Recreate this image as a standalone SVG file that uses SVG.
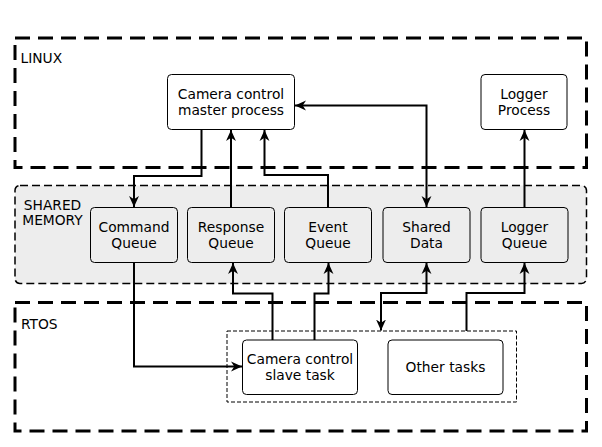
<svg xmlns="http://www.w3.org/2000/svg" width="602" height="447" viewBox="0 0 602 447">
<style>
text{font-family:"DejaVu Sans","Liberation Sans",sans-serif;font-size:13.8px;fill:#000}
.c{text-anchor:middle}
.zone{fill:none;stroke:#000;stroke-width:3;stroke-dasharray:15,8}
.shm{fill:#ededed;stroke:#000;stroke-width:1.5;stroke-dasharray:8,4}
.inner{fill:none;stroke:#000;stroke-width:1;stroke-dasharray:4,2}
.node{fill:#fff;stroke:#000;stroke-width:1}
.shmnode{fill:#ededed;stroke:#000;stroke-width:1}
.edge{fill:none;stroke:#000;stroke-width:2}
</style>
<defs>
<marker id="ah" viewBox="0 0 10 10" refX="10" refY="5" markerWidth="11" markerHeight="11" markerUnits="userSpaceOnUse" orient="auto-start-reverse">
<path d="M0,0.5 L10,5 L0,9.5 L3,5 Z" fill="#000"/>
</marker>
</defs>
<g id="linux">
<rect class="zone" x="15" y="38" width="571.5" height="129.5"/>
<text x="20.5" y="62.5">LINUX</text>
</g>
<g id="shared-memory">
<rect class="shm" x="15" y="185.5" width="571.5" height="98" rx="5"/>
<text class="c" x="52.5" y="210">SHARED</text>
<text class="c" x="52.5" y="225">MEMORY</text>
</g>
<g id="rtos">
<rect class="zone" x="15" y="302.5" width="571.5" height="128.5"/>
<text x="21" y="329.3">RTOS</text>
</g>
<g id="rtos-tasks">
<rect class="inner" x="227" y="331" width="289.5" height="71"/>
</g>
<g id="master">
<rect class="node" x="167.5" y="74.5" width="127" height="55" rx="4"/>
<text class="c" x="231" y="99">Camera control</text>
<text class="c" x="231" y="115">master process</text>
</g>
<g id="logger-process">
<rect class="node" x="481" y="74.5" width="86" height="55" rx="4"/>
<text class="c" x="524" y="99">Logger</text>
<text class="c" x="524" y="115">Process</text>
</g>
<g id="command-queue">
<rect class="shmnode" x="90.5" y="207.5" width="87" height="55" rx="4"/>
<text class="c" x="134" y="231.5">Command</text>
<text class="c" x="134" y="247.5">Queue</text>
</g>
<g id="response-queue">
<rect class="shmnode" x="187.5" y="207.5" width="87" height="55" rx="4"/>
<text class="c" x="231" y="231.5">Response</text>
<text class="c" x="231" y="247.5">Queue</text>
</g>
<g id="event-queue">
<rect class="shmnode" x="284.5" y="207.5" width="87" height="55" rx="4"/>
<text class="c" x="328" y="231.5">Event</text>
<text class="c" x="328" y="247.5">Queue</text>
</g>
<g id="shared-data">
<rect class="shmnode" x="383" y="207.5" width="87" height="55" rx="4"/>
<text class="c" x="426.5" y="231.5">Shared</text>
<text class="c" x="426.5" y="247.5">Data</text>
</g>
<g id="logger-queue">
<rect class="shmnode" x="481" y="207.5" width="87" height="55" rx="4"/>
<text class="c" x="524.5" y="231.5">Logger</text>
<text class="c" x="524.5" y="247.5">Queue</text>
</g>
<g id="slave">
<rect class="node" x="242.5" y="340" width="115" height="54.5" rx="4"/>
<text class="c" x="300" y="364">Camera control</text>
<text class="c" x="300" y="380">slave task</text>
</g>
<g id="other-tasks">
<rect class="node" x="388" y="340" width="115" height="54.5" rx="4"/>
<text class="c" x="445.5" y="372">Other tasks</text>
</g>
<g id="connectors">
<path class="edge" d="M201.5,129.5 V176 H134 V207" marker-end="url(#ah)"/>
<path class="edge" d="M231,207.5 V130" marker-end="url(#ah)"/>
<path class="edge" d="M328,207.5 V175 H264.5 V130" marker-end="url(#ah)"/>
<path class="edge" d="M295,105.5 H426.5 V207" marker-start="url(#ah)" marker-end="url(#ah)"/>
<path class="edge" d="M524.5,207.5 V130" marker-end="url(#ah)"/>
<path class="edge" d="M134,262.5 V366.5 H242" marker-end="url(#ah)"/>
<path class="edge" d="M272.5,340 V293.5 H233 V263" marker-end="url(#ah)"/>
<path class="edge" d="M314.5,340 V293.5 H328.5 V263" marker-end="url(#ah)"/>
<path class="edge" d="M426.5,263 V293 H381 V330.5" marker-start="url(#ah)" marker-end="url(#ah)"/>
<path class="edge" d="M466.5,331 V293 H524.5 V263" marker-end="url(#ah)"/>
</g>
</svg>
